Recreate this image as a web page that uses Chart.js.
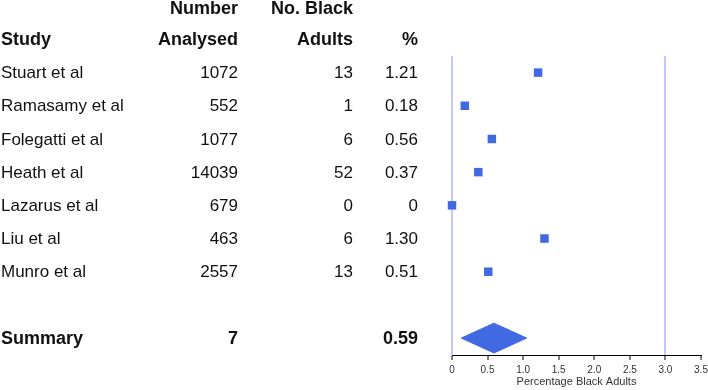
<!DOCTYPE html>
<html>
<head>
<meta charset="utf-8">
<script src="https://cdn.jsdelivr.net/npm/chart.js@4/dist/chart.umd.min.js"></script>
<style>
  body { margin: 0; background: #fff; }
  #wrap { width: 708px; height: 390px; }
</style>
</head>
<body>
<div id="wrap"><canvas id="forestChart" width="708" height="390"></canvas></div>
<script>
// table data
const studies = ["Stuart et al", "Ramasamy et al", "Folegatti et al", "Heath et al", "Lazarus et al", "Liu et al", "Munro et al"];
const numberAnalysed = [1072, 552, 1077, 14039, 679, 463, 2557];
const blackAdults = [13, 1, 6, 52, 0, 6, 13];
const pctLabels = ["1.21", "0.18", "0.56", "0.37", "0", "1.30", "0.51"];
const pctValues = [1.21, 0.18, 0.56, 0.37, 0, 1.30, 0.51];

// summary row
const summaryLabel = "Summary";
const summaryCount = 7;
const summaryPct = 0.59;
const summaryLow = 0.13;
const summaryHigh = 1.05;

const xTicks = [0, 0.5, 1, 1.5, 2, 2.5, 3, 3.5];
const refLines = [0, 3];

const BLUE = "#4169e1";
const SUMMARY_ROW = 9;
const DIAMOND_HALF = 0.45;

const studyPoints = pctValues.map((v, i) => ({ x: v, y: i + 1 }));
const diamondPoints = [
  { x: summaryLow, y: SUMMARY_ROW },
  { x: summaryPct, y: SUMMARY_ROW - DIAMOND_HALF },
  { x: summaryHigh, y: SUMMARY_ROW },
  { x: summaryPct, y: SUMMARY_ROW + DIAMOND_HALF },
  { x: summaryLow, y: SUMMARY_ROW }
];

function drawText(ctx, s, x, y, align, bold) {
  ctx.save();
  ctx.font = (bold ? "bold 18px" : "17px") + ' "Liberation Sans", Arial, sans-serif';
  ctx.fillStyle = "#111";
  ctx.textBaseline = "middle";
  ctx.textAlign = align;
  ctx.fillText(s, x, y + 1);
  ctx.restore();
}

const tablePlugin = {
  id: "tableText",
  afterDraw(chart) {
    const ctx = chart.ctx;
    const y = chart.scales.y;
    const cStudy = 1, cN = 238, cB = 353, cP = 418;
    // headers
    const h1 = y.getPixelForValue(-0.96), h0 = y.getPixelForValue(0);
    drawText(ctx, "Number", cN, h1, "right", true);
    drawText(ctx, "No. Black", cB, h1, "right", true);
    drawText(ctx, "Study", cStudy, h0, "left", true);
    drawText(ctx, "Analysed", cN, h0, "right", true);
    drawText(ctx, "Adults", cB, h0, "right", true);
    drawText(ctx, "%", cP, h0, "right", true);
    studies.forEach((s, i) => {
      const py = y.getPixelForValue(i + 1);
      drawText(ctx, s, cStudy, py, "left", false);
      drawText(ctx, String(numberAnalysed[i]), cN, py, "right", false);
      drawText(ctx, String(blackAdults[i]), cB, py, "right", false);
      drawText(ctx, pctLabels[i], cP, py, "right", false);
    });
    const sy = y.getPixelForValue(SUMMARY_ROW);
    drawText(ctx, summaryLabel, cStudy, sy, "left", true);
    drawText(ctx, String(summaryCount), cN, sy, "right", true);
    drawText(ctx, summaryPct.toFixed(2), cP, sy, "right", true);
  }
};

new Chart(document.getElementById("forestChart").getContext("2d"), {
  type: "scatter",
  data: {
    datasets: [
      {
        data: studyPoints,
        pointStyle: "rect",
        pointRadius: 6,
        pointBorderWidth: 0,
        backgroundColor: BLUE,
        borderColor: BLUE,
        clip: false
      },
      {
        type: "line",
        data: diamondPoints,
        fill: "shape",
        backgroundColor: BLUE,
        borderColor: BLUE,
        borderWidth: 1,
        pointRadius: 0,
        tension: 0,
        clip: false
      }
    ]
  },
  options: {
    responsive: false,
    animation: false,
    layout: { padding: { left: 452, right: 7, top: 56, bottom: 0 } },
    plugins: { legend: { display: false }, tooltip: { enabled: false } },
    scales: {
      x: {
        type: "linear",
        min: 0,
        max: 3.5,
        afterBuildTicks(scale) { scale.ticks = xTicks.map(v => ({ value: v })); },
        afterFit(scale) { scale.height = 35; scale.paddingRight = 0; scale.paddingLeft = 0; },
        grid: {
          color: c => (c.tick && refLines.includes(c.tick.value)) ? "#c6c6fc" : "rgba(0,0,0,0)",
          lineWidth: 2,
          tickColor: "#000",
          tickWidth: 1,
          tickLength: 5
        },
        border: { display: true, color: "#000", width: 1 },
        ticks: {
          color: "#333",
          padding: 4,
          maxRotation: 0,
          font: { size: 10, family: '"Liberation Sans", Arial, sans-serif' }
        },
        title: {
          display: true,
          text: "Percentage Black Adults",
          color: "#333",
          padding: { top: 0, bottom: 1 },
          font: { size: 11, family: '"Liberation Sans", Arial, sans-serif' }
        }
      },
      y: {
        type: "linear",
        display: false,
        reverse: true,
        min: 0.5,
        max: 9.51
      }
    }
  },
  plugins: [tablePlugin]
});
</script>
</body>
</html>
